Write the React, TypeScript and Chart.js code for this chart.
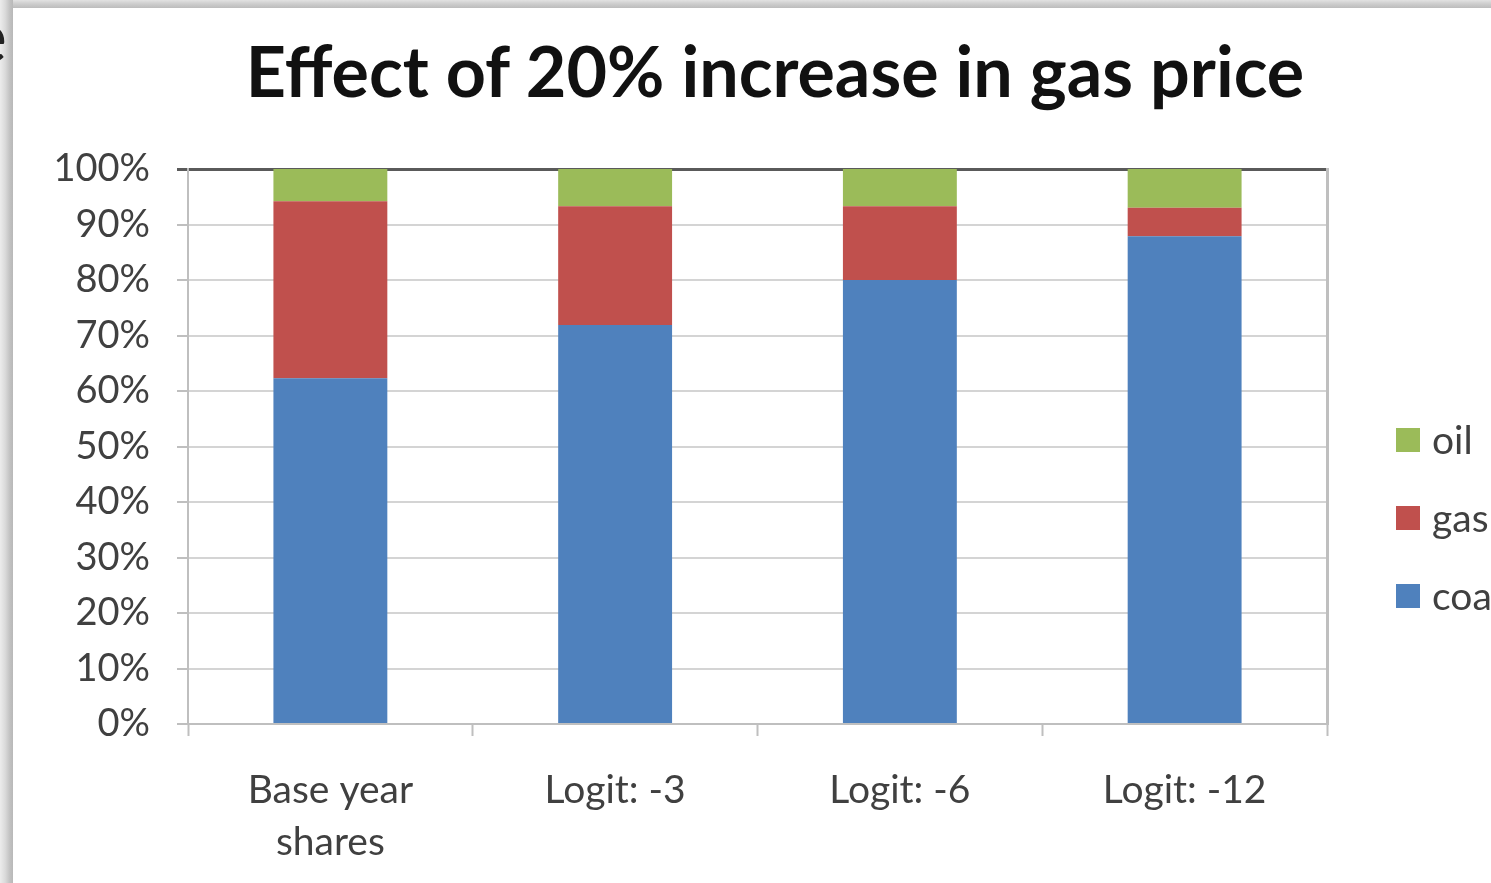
import React, { useEffect, useRef } from "react";
import { Chart, registerables } from "chart.js";

Chart.register(...registerables);

// ---- data ----
const categories: (string | string[])[] = [["Base year", "shares"], "Logit: -3", "Logit: -6", "Logit: -12"];
const coalShares = [62.3, 71.9, 80.0, 87.9];
const gasShares = [31.9, 21.4, 13.3, 5.1];
const oilShares = [5.8, 6.7, 6.7, 7.0];
const seriesNames = ["coal", "gas", "oil"];
const seriesColors = ["#4F81BD", "#C0504D", "#9BBB59"];
const yTickStep = 10;
const titleText = "Effect of 20% increase in gas price";

const FONT = "Lato, 'Noto Sans', sans-serif";
const TEXT_GRAY = "#404040";

const legendPlugin = {
  id: "excelLegend",
  afterDraw(chart: any) {
    const { ctx, chartArea } = chart;
    const items = chart.data.datasets
      .map((d: any) => ({ label: d.label, color: d.backgroundColor }))
      .reverse();
    const box = 24;
    const spacing = 78;
    const x0 = chartArea.right + 69;
    const cy0 = chartArea.top + 271;
    ctx.save();
    ctx.font = `39px ${FONT}`;
    ctx.textBaseline = "middle";
    ctx.textAlign = "left";
    items.forEach((it: any, i: number) => {
      const cy = cy0 + i * spacing;
      ctx.fillStyle = it.color;
      ctx.fillRect(x0, cy - box / 2, box, box);
      ctx.fillStyle = TEXT_GRAY;
      ctx.fillText(it.label, x0 + box + 12, cy + 1);
    });
    ctx.restore();
  },
};

function ChartCanvas() {
  const ref = useRef<HTMLCanvasElement | null>(null);
  useEffect(() => {
    if (!ref.current) return;
    const values = [coalShares, gasShares, oilShares];
    const chart = new Chart(ref.current, {
      type: "bar",
      data: {
        labels: categories as any,
        datasets: values.map((v, i) => ({
          label: seriesNames[i],
          data: v,
          backgroundColor: seriesColors[i],
          borderWidth: 0,
          categoryPercentage: 1,
          barPercentage: 0.4,
        })),
      },
      plugins: [legendPlugin],
      options: {
        animation: false,
        responsive: false,
        maintainAspectRatio: false,
        layout: { padding: { left: 0, right: 164, top: 169, bottom: 0 } },
        plugins: {
          legend: { display: false },
          title: { display: false },
          tooltip: { enabled: false },
        },
        scales: {
          x: {
            stacked: true,
            afterFit: (s: any) => {
              s.height = 159;
            },
            grid: {
              drawOnChartArea: false,
              drawTicks: true,
              tickLength: 12,
              tickColor: "#bfbfbf",
              tickWidth: 2,
            },
            border: { display: true, color: "#bfbfbf", width: 2 },
            ticks: {
              font: { family: FONT, size: 39, lineHeight: 52 / 39 },
              color: TEXT_GRAY,
              padding: 28,
              maxRotation: 0,
              autoSkip: false,
            },
          },
          y: {
            stacked: true,
            min: 0,
            max: 100,
            afterFit: (s: any) => {
              s.width = 188;
            },
            ticks: {
              stepSize: yTickStep,
              callback: (v: any) => `${v}%`,
              font: { family: FONT, size: 38 },
              color: TEXT_GRAY,
              padding: 27,
            },
            grid: {
              color: (c: any) => (c.tick && c.tick.value === 100 ? "#5a5a5a" : "#d4d4d4"),
              lineWidth: (c: any) => (c.tick && c.tick.value === 100 ? 3 : 2),
              tickColor: (c: any) => (c.tick && c.tick.value === 100 ? "#5a5a5a" : "#bfbfbf"),
              tickLength: 11,
              drawTicks: true,
            },
            border: { display: true, color: "#bfbfbf", width: 2 },
          },
          yRight: {
            position: "right",
            min: 0,
            max: 100,
            afterFit: (s: any) => {
              s.width = 0;
            },
            ticks: { display: false },
            grid: { display: false, drawTicks: false },
            border: { display: true, color: "#bfbfbf", width: 3 },
          },
        },
      } as any,
    });
    return () => chart.destroy();
  }, []);
  return <canvas ref={ref} width={1491} height={883} style={{ position: "absolute", left: 0, top: 0, width: 1491, height: 883 }} />;
}

export default function App() {
  return (
    <div style={{ position: "fixed", left: 0, top: 0, width: 1491, height: 883, overflow: "hidden", background: "#ffffff" }}>
      <div
        style={{
          position: "absolute",
          left: 0,
          top: 35,
          width: 1550,
          textAlign: "center",
          fontFamily: FONT,
          fontWeight: 700,
          fontSize: 70,
          lineHeight: "70px",
          color: "#111",
          whiteSpace: "nowrap",
        }}
      >
        {titleText}
      </div>
      <ChartCanvas />
      <div style={{ position: "absolute", left: 0, top: 0, width: 1491, height: 8, background: "linear-gradient(to bottom, #e2e2e2 0%, #d0d0d0 40%, #bcbcbc 100%)" }} />
      <div style={{ position: "absolute", left: 0, top: 0, width: 13, height: 883, background: "linear-gradient(to right, #ececec 0%, #dadada 40%, #c2c2c2 75%, #b8b8b8 100%)" }} />
      <div style={{ position: "absolute", left: -31, top: -2, fontFamily: FONT, fontSize: 72, lineHeight: "72px", color: "#222" }}>e</div>
    </div>
  );
}
